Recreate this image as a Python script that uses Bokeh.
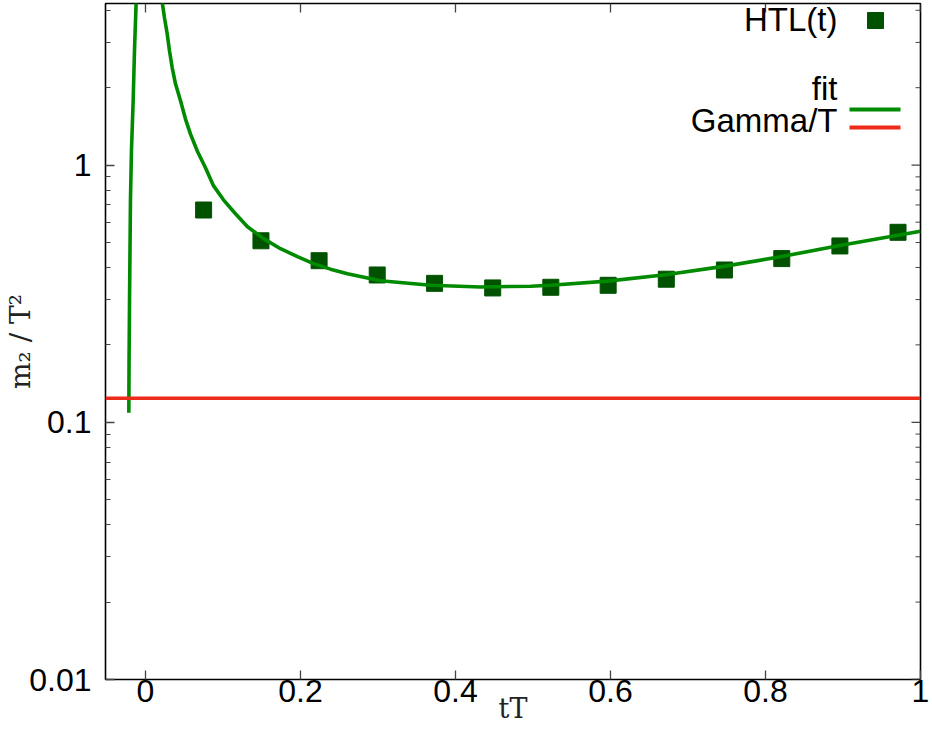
import math
from bokeh.plotting import figure
from bokeh.models import Range1d, FixedTicker, CustomJSTickFormatter, Span
from bokeh.core.properties import value
from bokeh.embed import file_html
from bokeh.resources import INLINE

# ---------------- data ----------------
t_htl = [0.075, 0.149, 0.224, 0.299, 0.373, 0.448, 0.523, 0.597, 0.672, 0.747, 0.821, 0.896, 0.971]
m2_htl = [0.669, 0.508, 0.425, 0.374, 0.347, 0.333, 0.335, 0.341, 0.360, 0.391, 0.433, 0.485, 0.548]

fit_left_t = [-0.0215, -0.0212, -0.0206, -0.0200, -0.0194, -0.0181, -0.0159, -0.0142, -0.0120]
fit_left_m2 = [0.109, 0.174, 0.297, 0.465, 0.727, 1.14, 1.78, 2.78, 4.35]

fit_right_t = [0.0213, 0.0245, 0.0280, 0.0310, 0.0345, 0.0387, 0.0452, 0.0516, 0.0581, 0.0671,
               0.0774, 0.0877, 0.1006, 0.1161, 0.1316, 0.1523, 0.1742, 0.1961, 0.2168, 0.2387,
               0.2606, 0.3032, 0.368, 0.432, 0.497, 0.523, 0.596, 0.671, 0.746, 0.821, 0.894, 1.0]
fit_right_m2 = [4.35, 3.74, 3.24, 2.78, 2.39, 2.07, 1.78, 1.51, 1.32, 1.13,
                0.977, 0.832, 0.733, 0.647, 0.576, 0.518, 0.473, 0.441, 0.414, 0.394,
                0.378, 0.355, 0.341, 0.336, 0.338, 0.341, 0.354, 0.375, 0.404, 0.441, 0.486, 0.553]

gamma_over_T = 0.124

x_ticks = [0, 0.2, 0.4, 0.6, 0.8, 1.0]
y_ticks = [0.01, 0.1, 1.0]
y_minor_ticks = [0.02, 0.03, 0.04, 0.05, 0.06, 0.07, 0.08, 0.09,
                 0.2, 0.3, 0.4, 0.5, 0.6, 0.7, 0.8, 0.9, 2, 3, 4]

legend_labels = ["HTL(t)", "fit", "Gamma/T"]

# ---------------- styling / layout ----------------
X0, X1 = -0.0516, 1.0
Y0, Y1 = 0.01, 4.25
FL, FT, FW, FH = 105, 3, 815, 676

GREEN = "#008a00"
DARKGREEN = "#005200"
RED = "#ee2a1b"
TICKC = "#444444"


def px2x(px):
    return X0 + (px - FL) / FW * (X1 - X0)


def py2y(py):
    l0, l1 = math.log10(Y0), math.log10(Y1)
    return 10 ** (l1 - (py - FT) / FH * (l1 - l0))


p = figure(frame_width=FW, frame_height=FH,
           x_range=Range1d(X0, X1), y_range=Range1d(Y0, Y1),
           y_axis_type="log", output_backend="svg", toolbar_location=None,
           min_border_left=FL, min_border_right=12, min_border_top=FT, min_border_bottom=56,
           background_fill_color="white", border_fill_color="white")

p.xgrid.grid_line_color = None
p.ygrid.grid_line_color = None
p.outline_line_color = "black"
p.outline_line_width = 1.6

fmt = CustomJSTickFormatter(code="return String(Math.round(tick*1000)/1000);")

xa = p.xaxis[0]
xa.ticker = FixedTicker(ticks=x_ticks)
xa.formatter = fmt
xa.axis_line_color = None
xa.major_tick_in = 9
xa.major_tick_out = 0
xa.minor_tick_in = 0
xa.minor_tick_out = 0
xa.major_tick_line_color = TICKC
xa.major_tick_line_width = 1.3
xa.major_label_text_font = "Liberation Sans"
xa.major_label_text_font_size = "32px"
xa.major_label_text_color = "black"
xa.major_label_standoff = 0
xa.axis_label = "tT"
xa.axis_label_text_font = "DejaVu Serif"
xa.axis_label_text_font_style = "normal"
xa.axis_label_text_font_size = "27px"
xa.axis_label_text_color = "#222222"
xa.axis_label_standoff = -12

ya = p.yaxis[0]
ya.ticker = FixedTicker(ticks=y_ticks, minor_ticks=y_minor_ticks)
ya.formatter = fmt
ya.axis_line_color = None
ya.major_tick_in = 9
ya.major_tick_out = 0
ya.minor_tick_in = 5
ya.minor_tick_out = 0
ya.major_tick_line_color = TICKC
ya.minor_tick_line_color = TICKC
ya.major_tick_line_width = 1.3
ya.major_label_text_font = "Liberation Sans"
ya.major_label_text_font_size = "32px"
ya.major_label_text_color = "black"
ya.major_label_standoff = 14
ya.axis_label = "m\u2082 / T\u00b2"
ya.axis_label_text_font = "DejaVu Serif"
ya.axis_label_text_font_style = "normal"
ya.axis_label_text_font_size = "28px"
ya.axis_label_text_color = "#222222"
ya.axis_label_standoff = -11

# mirrored ticks on top and right edges (inward)
top_len = py2y(FT + 9)
p.segment(x0=x_ticks, y0=[Y1] * len(x_ticks), x1=x_ticks, y1=[top_len] * len(x_ticks),
          line_color=TICKC, line_width=1.3)
xr_major = px2x(FL + FW - 9)
xr_minor = px2x(FL + FW - 5)
p.segment(x0=[X1] * len(y_ticks), y0=y_ticks, x1=[xr_major] * len(y_ticks), y1=y_ticks,
          line_color=TICKC, line_width=1.3)
p.segment(x0=[X1] * len(y_minor_ticks), y0=y_minor_ticks, x1=[xr_minor] * len(y_minor_ticks),
          y1=y_minor_ticks, line_color=TICKC, line_width=1)

# ---------------- data marks ----------------
p.scatter(t_htl, m2_htl, marker="square", size=16, fill_color=DARKGREEN, line_color=DARKGREEN)
p.line(fit_left_t, fit_left_m2, line_color=GREEN, line_width=3.6)
p.line(fit_right_t, fit_right_m2, line_color=GREEN, line_width=3.6)
p.add_layout(Span(location=gamma_over_T, dimension="width", line_color=RED, line_width=3.6))

# ---------------- legend (gnuplot style, drawn by hand) ----------------
p.text(x=[px2x(837)] * 3, y=[py2y(19), py2y(88), py2y(120)], text=legend_labels,
       text_align="right", text_baseline="middle", text_font=value("Liberation Sans"),
       text_font_size="33px", text_color="black")
p.scatter([px2x(875)], [py2y(20)], marker="square", size=16,
          fill_color=DARKGREEN, line_color=DARKGREEN)
p.line([px2x(849), px2x(900)], [py2y(109), py2y(109)], line_color=GREEN, line_width=4)
p.line([px2x(849), px2x(900)], [py2y(127), py2y(127)], line_color=RED, line_width=4)

open("out.html", "w").write(file_html(p, INLINE))
